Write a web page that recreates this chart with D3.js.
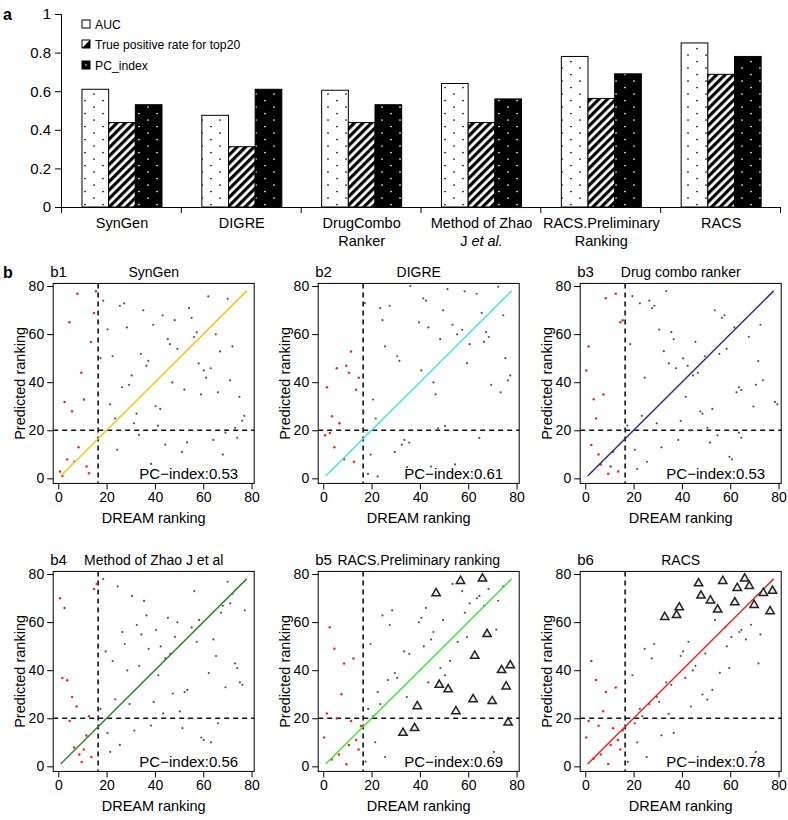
<!DOCTYPE html>
<html><head><meta charset="utf-8">
<script src="https://cdn.jsdelivr.net/npm/d3@7"></script>
<style>body{margin:0;background:#fff}svg{font-family:"Liberation Sans",Arial,Helvetica,sans-serif}</style>
</head><body><svg id="c" width="788" height="820"></svg>
<script>
// ---------- data: panel a ----------
const categories = [["SynGen"],["DIGRE"],["DrugCombo","Ranker"],["Method of Zhao","J |et al."],["RACS.Preliminary","Ranking"],["RACS"]];
const seriesNames = ["AUC","True positive rate for top20","PC_index"];
const auc = [0.61,0.475,0.605,0.64,0.78,0.85];
const tpr = [0.4375,0.3125,0.4375,0.4375,0.5625,0.6875];
const pcIndex = [0.53,0.61,0.53,0.56,0.69,0.78];
const barTicks = [0,0.2,0.4,0.6,0.8,1];
const scatterTicks = [0,20,40,60,80];

// ---------- data: panels b1-b6 ([DREAM ranking, Predicted ranking]) ----------
const b1Red = [[0.7,2.9],[1.7,1.0],[2.6,31.8],[3.7,7.8],[4.6,64.9],[5.7,27.9],[6.6,6.9],[7.9,76.8],[8.4,12.9],[9.5,43.9],[10.6,32.8],[11.7,4.9],[12.7,2.1],[13.5,56.7],[14.8,68.8],[15.6,77.8]];
const b1Grey = [[18.6,73.9],[25.5,71.8],[27.3,72.8],[35.2,69.9],[43.2,67.8],[48.2,65.8],[54.1,70.8],[55.2,66.8],[62.1,75.7],[70.1,74.7],[20.4,62.0],[28.4,62.8],[39.3,63.9],[45.3,57.9],[46.2,55.8],[49.3,53.9],[56.2,58.8],[57.3,60.7],[65.2,59.9],[72.1,54.9],[67.0,52.8],[17.5,50.0],[22.5,50.8],[34.2,51.8],[37.3,48.9],[36.5,46.8],[58.1,47.8],[60.2,44.9],[63.1,45.8],[61.2,41.9],[71.1,40.8],[30.4,42.8],[29.3,38.9],[26.4,37.9],[47.2,39.9],[52.2,36.9],[59.1,34.9],[66.1,35.8],[75.0,33.9],[21.4,30.8],[40.3,30.0],[42.2,28.9],[32.4,26.9],[23.5,24.9],[31.3,22.9],[41.3,21.9],[77.0,26.0],[76.1,24.0],[73.2,21.0],[69.2,19.0],[74.1,16.9],[33.4,18.1],[64.2,16.0],[53.3,15.0],[44.3,14.0],[24.4,11.9],[51.2,11.0],[68.1,9.9],[38.4,6.0]];

const b2Red = [[11.5,52.8],[5.6,45.8],[9.5,46.8],[10.6,43.9],[14.7,41.9],[1.5,37.9],[13.6,36.9],[3.6,25.8],[6.7,22.9],[0.7,17.9],[2.7,18.9],[4.6,12.9],[8.6,7.9],[12.7,6.9]];
const b2Grey = [[36,80],[17.2,72.9],[23.6,70.8],[27.5,71.8],[24.5,65.8],[41.4,74.9],[42.5,73.9],[51.4,78.7],[58.5,77.8],[63.5,76.8],[72.4,79.7],[49.6,69.9],[39.6,64.9],[43.5,62.8],[53.5,63.9],[57.5,61.8],[55.4,59.9],[65.6,68.8],[74.5,67.8],[67.4,60.8],[68.5,58.8],[66.5,56.8],[48.4,57.9],[60.6,55.8],[25.6,54.9],[30.6,50.8],[31.5,48.9],[40.6,44.9],[59.5,47.9],[75.4,50.0],[77.4,42.8],[76.4,40.8],[45.6,39.9],[69.5,38.9],[73.4,35.8],[46.5,34.9],[20.6,32.8],[16.7,27.8],[21.7,24.9],[47.5,20.8],[50.4,21.8],[64.6,16.8],[33.6,16.0],[35.6,14.9],[32.5,14.0],[29.6,11.0],[19.6,9.9],[44.6,4.9],[54.5,5.8],[18.5,1.9],[22.5,0.8],[34.7,4.7]];

const b3Red = [[8.5,74.9],[12.6,76.8],[14.5,64.9],[15.5,65.8],[1.4,54.9],[0.4,44.9],[7.5,34.9],[3.5,32.9],[4.5,24.9],[2.5,13.9],[11.5,11.1],[5.5,9.9],[6.4,5.8],[10.5,4.9],[9.5,1.9],[13.6,2.9]];
const b3Grey = [[19.5,75.8],[26.5,73.9],[28.6,71.8],[27.6,70.8],[22.6,72.8],[33.5,77.9],[30.6,61.9],[35.6,60.8],[36.6,57.9],[45.6,56.8],[53.6,69.9],[56.6,66.8],[57.6,67.8],[61.7,62.8],[67.7,58.9],[72.5,63.9],[58.5,53.9],[55.5,51.8],[49.5,50.8],[18.6,55.8],[32.5,52.9],[34.6,47.8],[37.5,45.8],[40.5,49.9],[42.4,46.8],[46.6,43.9],[44.6,42.8],[24.6,41.9],[71.6,48.8],[73.5,40.8],[70.6,38.9],[63.6,37.9],[62.6,35.8],[64.6,36.8],[41.6,33.9],[69.6,29.9],[47.6,27.9],[48.5,26.9],[52.6,28.9],[23.4,26.0],[17.4,21.9],[29.6,22.9],[39.5,23.9],[50.6,21.0],[43.5,19.9],[54.7,17.9],[63.6,19.0],[64.6,16.9],[38.5,16.0],[51.6,14.9],[20.5,11.9],[31.5,12.9],[59.7,8.9],[60.7,7.9],[25.5,6.9],[21.5,3.9],[78.5,31.8],[79.5,30.8]];

const b4Red = [[0.7,69.9],[2.6,65.9],[14.8,73.8],[15.9,75.9],[1.7,36.8],[3.7,35.8],[5.7,28.9],[7.6,24.9],[4.7,18.9],[12.7,20.8],[11.6,12.8],[6.6,7.8],[10.6,7.0],[8.7,4.9],[9.7,1.8],[13.7,3.9]];
const b4Grey = [[18.6,77.9],[24.6,74.9],[30.5,70.9],[35.5,68.8],[56.3,72.9],[70.1,76.8],[72.1,71.8],[71.2,67.8],[68.1,66.8],[67.4,63.9],[77.2,64.9],[36.5,62.8],[45.4,61.8],[49.3,59.9],[32.5,58.8],[40.5,56.8],[55.2,57.8],[58.3,60.9],[26.5,55.9],[34.4,54.9],[48.3,53.9],[57.3,51.8],[64.2,52.8],[27.5,50.9],[42.4,49.9],[37.4,48.9],[19.6,47.8],[46.4,46.8],[44.3,44.9],[65.3,45.9],[22.5,43.8],[33.5,41.8],[28.6,39.9],[73.2,42.8],[74.1,40.9],[62.3,38.8],[41.4,37.9],[75.2,34.9],[76.2,33.9],[69.2,32.9],[52.3,30.9],[53.4,31.8],[47.4,30.3],[23.6,27.9],[39.5,26.8],[29.5,25.9],[17.5,23.9],[43.4,22.0],[50.3,22.9],[54.0,19.9],[31.5,14.9],[38.4,17.0],[51.4,15.9],[66.1,17.9],[20.4,13.9],[25.5,8.9],[21.5,6.0],[59.2,12.0],[60.2,11.0],[63.2,10.0]];

const b5Red = [[2.7,57.9],[4.6,48.9],[8.6,42.8],[12.5,44.9],[7.5,30.0],[1.5,22.0],[5.6,19.9],[11.5,18.9],[15.6,16.8],[0.4,12.0],[13.6,11.0],[10.6,8.9],[14.6,7.0],[6.5,4.9],[3.5,2.9],[9.6,0.9]];
const b5Grey = [[53.5,75.9],[57.5,72.9],[68.4,73.8],[74.5,74.9],[63.6,69.9],[64.6,70.9],[60.6,67.8],[66.5,66.8],[72.4,68.9],[42.5,65.9],[28.5,64.9],[24.5,62.8],[40.6,61.8],[49.6,60.9],[39.6,59.9],[27.5,58.8],[58.6,63.9],[45.6,55.9],[71.6,56.9],[44.6,52.8],[59.5,53.8],[55.6,51.8],[19.6,50.9],[41.6,49.9],[33.5,47.8],[35.6,46.8],[52.5,43.9],[48.5,40.9],[29.6,38.8],[50.4,37.9],[30.6,36.8],[26.7,35.9],[43.5,34.9],[22.5,30.9],[34.6,28.8],[23.6,25.9],[18.6,23.9],[20.6,20.8],[21.5,10.0],[25.6,3.9],[17.5,2.0],[70.6,6.0]];
const b5Tri = [[56.8,77.1],[65.9,78.1],[46.7,72.0],[67.8,55.0],[62.7,46.0],[73.8,40.0],[77.4,42.0],[48.0,33.9],[51.7,32.0],[75.7,33.2],[62.0,27.9],[69.9,27.1],[38.9,25.0],[54.9,22.9],[76.5,18.2],[37.8,15.9],[33.0,13.9]];

const b6Red = [[2.5,43.8],[4.5,35.9],[8.5,30.9],[12.6,32.8],[7.4,22.9],[1.4,18.9],[5.5,16.9],[11.5,15.9],[0.4,12.0],[13.5,11.0],[10.5,8.9],[6.4,4.9],[3.4,3.2],[9.5,1.0],[14.5,7.0],[15.5,15.0]];
const b6Grey = [[53.7,60.9],[57.9,57.8],[63.8,55.9],[64.6,56.8],[68.6,58.9],[66.5,52.8],[72.5,54.9],[60.5,53.8],[58.6,49.9],[42.7,51.8],[40.5,47.8],[39.5,45.9],[28.5,50.9],[24.6,48.9],[27.5,44.9],[49.7,46.9],[45.6,41.8],[44.5,39.9],[41.4,36.8],[71.7,42.8],[59.6,40.9],[55.7,38.9],[19.5,37.9],[33.5,34.9],[35.6,33.9],[52.6,31.8],[48.5,29.9],[50.5,27.8],[30.6,26.8],[26.5,25.9],[29.6,28.9],[22.6,23.9],[43.7,24.9],[34.5,21.8],[23.6,20.9],[20.5,17.9],[36.6,13.9],[31.5,12.9],[21.5,10.0],[25.4,3.9],[17.6,1.9],[70.6,6.0]];
const b6Tri = [[46.9,76.1],[56.9,77.1],[66.0,78.1],[62.9,74.2],[67.9,75.0],[47.9,71.0],[51.8,69.0],[73.7,72.1],[61.9,68.2],[69.9,67.1],[54.8,65.2],[38.9,66.1],[37.8,62.9],[32.9,62.1],[77.5,73.0],[76.5,64.5]];

const panelLabels = ["b1","b2","b3","b4","b5","b6"];
const panelTitles = ["SynGen","DIGRE","Drug combo ranker","Method of Zhao J et al","RACS.Preliminary ranking","RACS"];
const panelPC = ["0.53","0.61","0.53","0.56","0.69","0.78"];
const lineColors = ["#f4c624","#3fe6e6","#2a2a8e","#2f8a2f","#3fe23f","#e8231f"];
const cutX = 16.5, cutY = 20, diagFrom = 1, diagTo = 78;

// ---------- drawing ----------
const svg = d3.select("#c");
const defs = svg.append("defs");
function dotPattern(id, bg, fg){
  const p = defs.append("pattern").attr("id",id).attr("patternUnits","userSpaceOnUse").attr("width",18).attr("height",13);
  p.append("rect").attr("width",18).attr("height",13).attr("fill",bg);
  p.append("circle").attr("cx",4).attr("cy",3).attr("r",0.85).attr("fill",fg);
  p.append("circle").attr("cx",13).attr("cy",9.5).attr("r",0.85).attr("fill",fg);
}
dotPattern("pAuc","#fff","#000");
dotPattern("pPc","#000","#fff");
const ps = defs.append("pattern").attr("id","pTpr").attr("patternUnits","userSpaceOnUse").attr("width",6).attr("height",6).attr("patternTransform","rotate(45)");
ps.append("rect").attr("width",6).attr("height",6).attr("fill","#fff");
ps.append("rect").attr("width",3.2).attr("height",6).attr("fill","#000");
const fills = ["url(#pAuc)","url(#pTpr)","url(#pPc)"];

// panel a
const gx = d3.scaleBand().domain(d3.range(categories.length)).range([61,780]);
const sx = d3.scaleBand().domain([0,1,2]).range([21,101]);
const ya = d3.scaleLinear().domain([0,1]).range([207,14]);
const series = [auc,tpr,pcIndex];
const ga = svg.append("g");
categories.forEach((c,i)=>{
  series.forEach((s,j)=>{
    ga.append("rect").attr("x",gx(i)+sx(j)).attr("y",ya(s[i])).attr("width",sx.bandwidth()).attr("height",ya(0)-ya(s[i]))
      .attr("fill",fills[j]).attr("stroke","#000").attr("stroke-width",1);
  });
});
const yAx = ga.append("g").attr("transform","translate(61,0)").call(d3.axisLeft(ya).tickValues(barTicks).tickSizeOuter(0).tickSize(6).tickPadding(4).tickFormat(d=>d===0?"0":d===1?"1":d.toFixed(1)));
yAx.selectAll("text").attr("font-size",15).attr("fill","#000").attr("font-family","Liberation Sans, Arial");
const xb = d3.scaleLinear().domain([0,categories.length]).range([61,780]);
ga.append("g").attr("transform","translate(0,207)").call(d3.axisBottom(xb).tickValues(d3.range(categories.length+1)).tickSizeOuter(0).tickSize(6).tickFormat(""));
ga.selectAll(".domain").attr("stroke","#000");
ga.selectAll(".tick line").attr("stroke","#000");
categories.forEach((c,i)=>{
  const cx = gx(i)+sx(0)+ (sx(2)+sx.bandwidth()-sx(0))/2;
  c.forEach((line,k)=>{
    const t = ga.append("text").attr("x",cx).attr("y",228+k*18).attr("text-anchor","middle").attr("font-size",14.5);
    if(line.includes("|")){
      const parts=line.split("|");
      t.append("tspan").text(parts[0]);
      t.append("tspan").attr("font-style","italic").text(parts[1]);
    } else t.text(line);
  });
});
// legend
const lg = ga.append("g");
const legY = [24,44,65];
seriesNames.forEach((n,j)=>{
  const y0 = legY[j]-4;
  if(j===0){
    lg.append("rect").attr("x",82).attr("y",y0).attr("width",8).attr("height",8).attr("fill","#fff").attr("stroke","#000");
  } else if(j===1){
    lg.append("rect").attr("x",82).attr("y",y0).attr("width",8).attr("height",8).attr("fill","#fff").attr("stroke","#000");
    lg.append("path").attr("d",`M${90},${y0}L${90},${y0+8}L${82},${y0+8}Z`).attr("fill","#000");
  } else {
    lg.append("rect").attr("x",82).attr("y",y0).attr("width",8).attr("height",8).attr("fill","#000").attr("stroke","#000");
    lg.append("circle").attr("cx",86).attr("cy",y0+4).attr("r",0.8).attr("fill","#fff");
  }
  lg.append("text").attr("x",95).attr("y",legY[j]+4.5).attr("font-size",12.2).text(n);
});
svg.append("text").attr("x",3).attr("y",20).attr("font-size",16).attr("font-weight","bold").text("a");
svg.append("text").attr("x",3).attr("y",278).attr("font-size",16).attr("font-weight","bold").text("b");

// panels b
const panels = [
  {red:b1Red,grey:b1Grey,tri:[]},{red:b2Red,grey:b2Grey,tri:[]},{red:b3Red,grey:b3Grey,tri:[]},
  {red:b4Red,grey:b4Grey,tri:[]},{red:b5Red,grey:b5Grey,tri:b5Tri},{red:b6Red,grey:b6Grey,tri:b6Tri}
];
const lefts = [53.2,318.2,580.2], tops = [283.4,571.4];
const W = 201, H = 200;
panels.forEach((p,i)=>{
  const L = lefts[i%3], T = tops[Math.floor(i/3)];
  const x = d3.scaleLinear().domain([-2.1,81.1]).range([L,L+W]);
  const y = d3.scaleLinear().domain([-2.1,81.1]).range([T+H,T]);
  const g = svg.append("g");
  g.append("line").attr("x1",x(cutX)).attr("x2",x(cutX)).attr("y1",T).attr("y2",T+H).attr("stroke","#111").attr("stroke-width",1.6).attr("stroke-dasharray","5,4");
  g.append("line").attr("x1",L).attr("x2",L+W).attr("y1",y(cutY)).attr("y2",y(cutY)).attr("stroke","#111").attr("stroke-width",1.6).attr("stroke-dasharray","5,4");
  g.selectAll(".gp").data(p.grey).join("circle").attr("cx",d=>x(d[0])).attr("cy",d=>y(d[1])).attr("r",1.1).attr("fill","#555");
  g.selectAll(".rp").data(p.red).join("circle").attr("cx",d=>x(d[0])).attr("cy",d=>y(d[1])).attr("r",1.25).attr("fill","#ec2a25");
  g.append("line").attr("x1",x(diagFrom)).attr("y1",y(diagFrom)).attr("x2",x(diagTo)).attr("y2",y(diagTo)).attr("stroke",lineColors[i]).attr("stroke-width",1.5);
  const sym = d3.symbol().type(d3.symbolTriangle).size(30);
  g.selectAll(".tp").data(p.tri).join("path").attr("d",sym).attr("transform",d=>`translate(${x(d[0])},${y(d[1])})`)
    .attr("fill","#eee").attr("stroke","#222").attr("stroke-width",1.5);
  g.append("rect").attr("x",L).attr("y",T).attr("width",W).attr("height",H).attr("fill","none").attr("stroke","#000").attr("stroke-width",1);
  const ay = g.append("g").attr("transform",`translate(${L},0)`).call(d3.axisLeft(y).tickValues(scatterTicks).tickSize(6).tickPadding(3));
  const ax = g.append("g").attr("transform",`translate(0,${T+H})`).call(d3.axisBottom(x).tickValues(scatterTicks).tickSize(6).tickPadding(3));
  [ay,ax].forEach(a=>{a.select(".domain").remove();a.selectAll("text").attr("font-size",14).attr("fill","#000").attr("font-family","Liberation Sans, Arial");a.selectAll("line").attr("stroke","#000");});
  g.append("text").attr("x",L-3).attr("y",T-6).attr("font-size",15).text(panelLabels[i]);
  g.append("text").attr("x",L+W/2).attr("y",T-6).attr("text-anchor","middle").attr("font-size",14).text(panelTitles[i]);
  g.append("text").attr("x",L+W-16).attr("y",T+H-4.5).attr("text-anchor","end").attr("font-size",15).text("PC\u2212index:"+panelPC[i]);
  g.append("text").attr("transform",`translate(${L-28},${T+H/2}) rotate(-90)`).attr("text-anchor","middle").attr("font-size",14.5).text("Predicted ranking");
  g.append("text").attr("x",L+W/2).attr("y",T+H+40).attr("text-anchor","middle").attr("font-size",14.5).text("DREAM ranking");
});
</script></body></html>
